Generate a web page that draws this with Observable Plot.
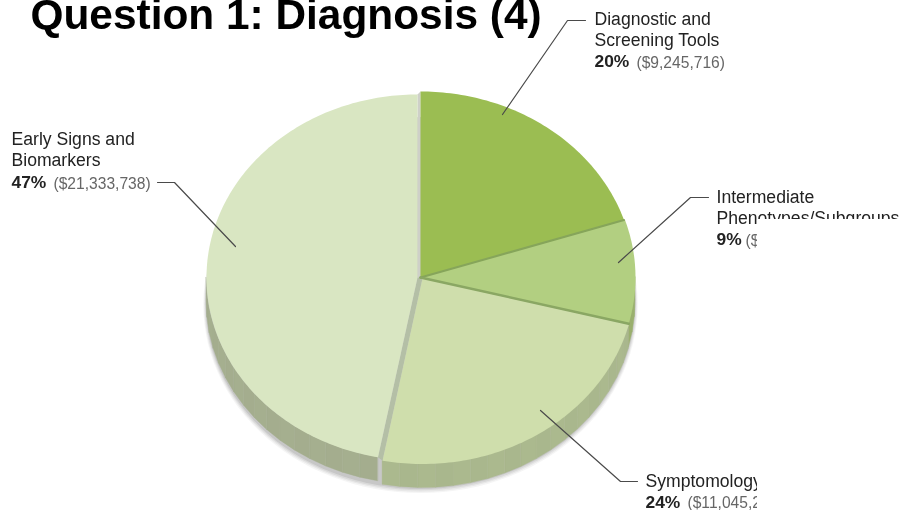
<!DOCTYPE html>
<html>
<head>
<meta charset="utf-8">
<script src="https://cdn.jsdelivr.net/npm/d3@7"></script>
<script src="https://cdn.jsdelivr.net/npm/@observablehq/plot@0.6"></script>
<style>
html,body{margin:0;padding:0;background:#fff;overflow:hidden}
svg{display:block;filter:blur(0.4px)}
</style>
</head>
<body>
<div id="chart"></div>
<script>
const categories = ["Diagnostic and Screening Tools","Intermediate Phenotypes/Subgroups","Symptomology","Early Signs and Biomarkers"];
const shares = [20, 9, 24, 47];
const topColors = ["#9bbd52","#b2cf81","#cfdeac","#d9e6c2"];
const sideColors = ["#8fa65c","#9aaf6e","#a9b78d","#a4ad8e"];
const sans = "Liberation Sans, Arial, sans-serif";

// pie geometry (ellipse in chart units)
const geom = [
  {cx:420,cy:277,rx:214,ry:186},
  {cx:420,cy:277,rx:215,ry:186},
  {cx:422,cy:278,rx:213,ry:185.5},
  {cx:417,cy:277,rx:211,ry:183}
];
const depth = 24;
const arcs = d3.pie().sort(null)(shares);
const pt = (g,a)=>({x:g.cx+g.rx*Math.sin(a), y:g.cy-g.ry*Math.cos(a)});
const rad = d=>d*Math.PI/180;

const tops = [], sides = [];
arcs.forEach((arc,i)=>{
  const g = geom[i], n = Math.ceil((arc.endAngle-arc.startAngle)/rad(1));
  tops.push({slice:i,color:topColors[i],x:g.cx,y:g.cy});
  for(let k=0;k<=n;k++){
    const a = arc.startAngle+(arc.endAngle-arc.startAngle)*k/n;
    tops.push({slice:i,color:topColors[i],...pt(g,a)});
  }
  // outer wall: only the part of the rim turned to the viewer
  const a0 = Math.max(arc.startAngle,rad(90)), a1 = Math.min(arc.endAngle,rad(270));
  if(a1>a0){
    const bands = Math.ceil((a1-a0)/rad(5));
    for(let b=0;b<bands;b++){
      const s0=a0+(a1-a0)*b/bands, s1=a0+(a1-a0)*(b+1)/bands;
      const shade=d3.color(sideColors[i]);
      const col=(b%2? shade.brighter(0.025):shade).formatHex();
      for(const a of [s0,s1]){
        const p=pt(g,a);
        sides.push({band:i+"-"+b,color:col,x:p.x,y1:p.y,y2:p.y+depth});
      }
    }
  }
});

// soft shadow: expanded copies of the pie's base, hidden except at the rim
const shadow=[];
[[4,.05],[3,.07],[2,.09],[1,.12]].forEach(([s,o],j)=>{
  for(let d=0;d<=360;d+=3){
    const g={cx:420,cy:278+depth+s*0.6,rx:214+s*0.8,ry:185+s*0.8};
    shadow.push({ring:j,op:o,...pt(g,rad(d))});
  }
});

// gaps between the pulled-out slice and its neighbours
const gapA=[pt(geom[2],arcs[2].endAngle),{x:geom[2].cx,y:geom[2].cy},{x:geom[3].cx,y:geom[3].cy},pt(geom[3],arcs[3].startAngle)];
const gapB=[pt(geom[0],arcs[0].startAngle),{x:geom[0].cx,y:geom[0].cy},{x:geom[3].cx,y:geom[3].cy},pt(geom[3],arcs[3].endAngle)];
const sep1=[{x:geom[0].cx,y:geom[0].cy},pt(geom[0],arcs[0].endAngle)];
const sep2=[{x:geom[1].cx,y:geom[1].cy},pt(geom[1],arcs[1].endAngle)];

// leaders
const leaders=[
  [{x:502,y:114},{x:567,y:20},{x:585,y:20}],
  [{x:618,y:262},{x:690,y:197},{x:708,y:197}],
  [{x:540,y:410},{x:620,y:481},{x:637,y:481}],
  [{x:235,y:246},{x:174,y:182},{x:157,y:182}]
].flatMap((l,i)=>l.map(p=>({...p,k:i})));

const nameLines=[
  {x:594,y:19,t:"Diagnostic and"},{x:594,y:40,t:"Screening Tools"},
  {x:716,y:197,t:"Intermediate"},{x:716,y:218,t:"Phenotypes/Subgroups"},
  {x:645,y:481,t:"Symptomology"},
  {x:11,y:139,t:"Early Signs and"},{x:11,y:160,t:"Biomarkers"}
];
const pctLines=[
  {x:594,y:61,t:"20%"},{x:716,y:239,t:"9%"},{x:645,y:502,t:"24%"},{x:11,y:182,t:"47%"}
];
const amountLines=[
  {x:636,y:62,t:"($9,245,716)"},{x:745,y:240,t:"($"},{x:687,y:502,t:"($11,045,2"},{x:53,y:183,t:"($21,333,738)"}
];

const chart=Plot.plot({
  width:903,height:510,margin:0,
  x:{axis:null,domain:[0,903],range:[0,903]},
  y:{axis:null,domain:[0,510],range:[0,510]},
  color:{type:"identity"},
  marks:[
    Plot.text(["Question 1: Diagnosis (4)"],{x:30,y:15,text:d=>d,textAnchor:"start",fontFamily:sans,fontWeight:"bold",fontSize:42.4,fill:"#000"}),
    Plot.line(shadow,{x:"x",y:"y",z:"ring",fill:"#444",fillOpacity:"op",stroke:"none"}),
    Plot.areaY(sides,{x:"x",y1:"y1",y2:"y2",z:"band",fill:"color",stroke:"color",strokeWidth:0.4}),
    Plot.line(gapA,{x:"x",y:"y",fill:"#b4bfa6",stroke:"none"}),
    Plot.line(gapB,{x:"x",y:"y",fill:"#ced0c8",stroke:"none"}),
    Plot.line(tops,{x:"x",y:"y",z:"slice",fill:"color",stroke:"none"}),
    Plot.line(sep1,{x:"x",y:"y",stroke:"#86a55a",strokeWidth:2}),
    Plot.line(sep2,{x:"x",y:"y",stroke:"#8aa763",strokeWidth:2.5}),
    Plot.line(leaders,{x:"x",y:"y",z:"k",stroke:"#4a4a4a",strokeWidth:1.2}),
    Plot.text(nameLines,{x:"x",y:"y",text:"t",textAnchor:"start",fontFamily:sans,fontSize:17.6,fill:"#222"}),
    Plot.text(pctLines,{x:"x",y:"y",text:"t",textAnchor:"start",fontFamily:sans,fontWeight:"bold",fontSize:17.4,fill:"#222"}),
    Plot.text(amountLines,{x:"x",y:"y",text:"t",textAnchor:"start",fontFamily:sans,fontSize:15.6,fill:"#666"}),
    Plot.rect([0],{x1:757,x2:903,y1:219,y2:510,fill:"#fff"})
  ]
});
document.getElementById("chart").append(chart);
</script>
</body>
</html>
